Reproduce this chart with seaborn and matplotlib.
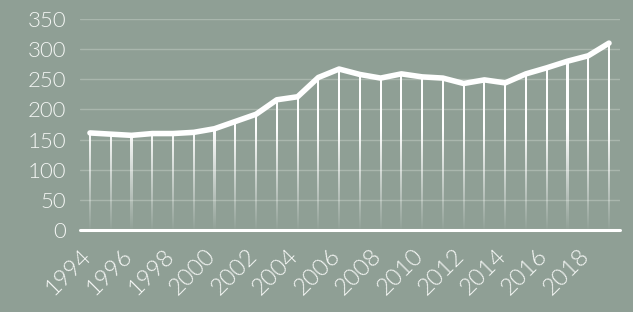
import numpy as np
import pandas as pd
import matplotlib
matplotlib.use("Agg")
import matplotlib.pyplot as plt
import matplotlib.transforms as mtransforms
from matplotlib.path import Path
from matplotlib.patches import PathPatch
import seaborn as sns

# ── data ─────────────────────────────────────
years = list(range(1994, 2020))
values = [161, 159, 157, 160, 160, 162, 168, 180, 192, 216, 221, 253,
          267, 258, 252, 259, 254, 252, 243, 249, 244, 259, 269, 280,
          289, 310]
y_ticks = [0, 50, 100, 150, 200, 250, 300, 350]
x_ticks = list(range(1994, 2019, 2))

BG = "#8f9f95"
GRID = "#a9b6ad"
TEXT = "#f4f6f4"

sns.set_theme(style="white", rc={
    "figure.facecolor": BG,
    "axes.facecolor": BG,
})
plt.rcParams["font.family"] = ["Lato", "DejaVu Sans"]

df = pd.DataFrame({"year": years, "value": values})

fig = plt.figure(figsize=(6.33, 3.12), dpi=100)
ax = fig.add_axes([80 / 633, 82 / 312, 540 / 633, 211 / 312])
ax.set_xlim(1993.52, 2019.53)
ax.set_ylim(0, 350)

# grid lines
for t in y_ticks[1:]:
    ax.axhline(t, color=GRID, lw=1.0, zorder=1)

# fading drop lines: a white gradient clipped to thin strips under each point
half_w = 0.05
verts, codes = [], []
for x, v in zip(years, values):
    verts += [(x - half_w, 0), (x + half_w, 0), (x + half_w, v),
              (x - half_w, v), (x - half_w, 0)]
    codes += [Path.MOVETO, Path.LINETO, Path.LINETO, Path.LINETO,
              Path.CLOSEPOLY]
clip = PathPatch(Path(verts, codes), transform=ax.transData,
                 facecolor="none", edgecolor="none")
ax.add_patch(clip)
ny = 200
alpha = np.clip(np.linspace(0, 350, ny) / 170 + 0.02, 0, 1)
grad = np.ones((ny, 2, 4))
grad[:, :, 3] = alpha[:, None]
im = ax.imshow(grad, extent=(1993.52, 2019.53, 0, 350), origin="lower",
               aspect="auto", interpolation="bilinear", zorder=2)
im.set_clip_path(clip)

# main line
sns.lineplot(data=df, x="year", y="value", ax=ax, color="white", lw=4.0,
             solid_capstyle="round", solid_joinstyle="round", zorder=4,
             clip_on=False)

# baseline
ax.axhline(0, color="white", lw=2.2, zorder=5, clip_on=False)

ax.set_xlim(1993.52, 2019.53)
ax.set_ylim(0, 350)
ax.set_yticks(y_ticks)
ax.set_xticks(x_ticks)
ax.set_yticklabels([str(t) for t in y_ticks], fontsize=16, color=TEXT,
                   fontweight=300)
ax.set_xticklabels([str(t) for t in x_ticks], fontsize=17, color=TEXT,
                   fontweight=300, rotation=45, ha="right",
                   rotation_mode="anchor")
ax.tick_params(axis="y", length=0, pad=10)
ax.tick_params(axis="x", length=0, pad=8)
shift = mtransforms.ScaledTranslation(-10 / 100, -4 / 100, fig.dpi_scale_trans)
for lab in ax.get_xticklabels():
    lab.set_transform(lab.get_transform() + shift)
ax.set_xlabel("")
ax.set_ylabel("")
for s in ax.spines.values():
    s.set_visible(False)

fig.savefig("out.png", dpi=100, facecolor=BG)
